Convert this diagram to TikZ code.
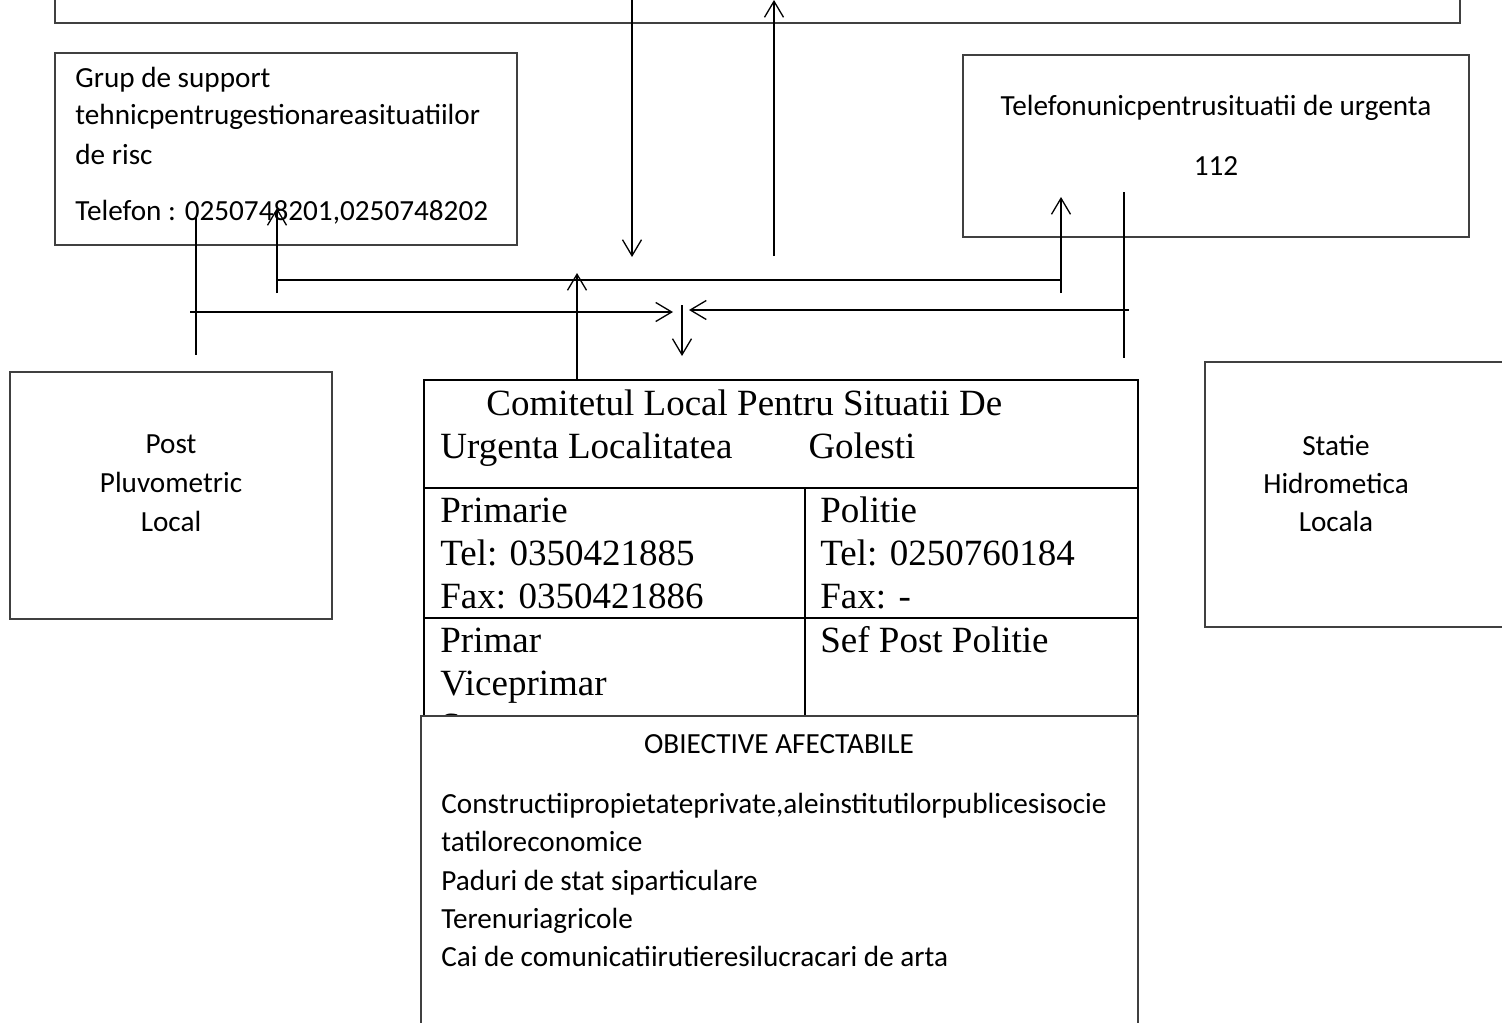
\documentclass[tikz,border=0pt]{standalone}
\usepackage{fontspec}
\setmainfont{Carlito}
\newfontfamily\timesf{Liberation Serif}
\usetikzlibrary{arrows.meta,fit}
\begin{document}
\begin{tikzpicture}[x=0.5pt,y=-0.5pt,
  box/.style={draw=black!75, line width=0.75pt, inner sep=0pt},
  tbl/.style={draw=black, line width=1pt},
  conn/.style={line width=0.65pt, draw=black},
  arr/.style={conn, -{Straight Barb[length=8pt,width=9.5pt,line width=0.65pt]}},
  cal/.style={font=\fontsize{14.6}{18}\selectfont, inner sep=0pt},
  tms/.style={font=\timesf\fontsize{18.5}{22}\selectfont, inner sep=0pt},
]
\useasboundingbox (0,0) rectangle (1502,1022);
\clip (0,0) rectangle (1502,1022);

% boxes
\node[box, fit={(55,-40) (1460,23)}] (top) {};
\node[box, fit={(55,53) (517,245)}] (grup) {};
\node[box, fit={(963,55) (1469,237)}] (tel) {};
\node[box, fit={(10,372) (332,619)}] (post) {};
\node[box, fit={(1205,362) (1540,627)}] (statie) {};
\node[tbl, inner sep=0pt, fit={(424,380) (1138,780)}] (table) {};

% box texts
\node[cal, anchor=base west] (g1) at (75,88) {Grup de support};
\node[cal, anchor=base west] (g2) at (75,125) {tehnicpentrugestionareasituatiilor};
\node[cal, anchor=base west] (g3) at (75,164) {de risc};
\node[cal, anchor=base west] (g4) at (75,220) {Telefon : 0250748201,0250748202};

\node[cal, anchor=base] (t1) at (1216,115) {Telefonunicpentrusituatii de urgenta};
\node[cal, anchor=base] (t2) at (1216,175) {112};

\node[cal, anchor=base] (p1) at (171,453) {Post};
\node[cal, anchor=base] (p2) at (171,492) {Pluvometric};
\node[cal, anchor=base] (p3) at (171,531) {Local};

\node[cal, anchor=base] (s1) at (1336,455) {Statie};
\node[cal, anchor=base] (s2) at (1336,493) {Hidrometica};
\node[cal, anchor=base] (s3) at (1336,531) {Locala};

% table
\draw[tbl] (424,488) -- (1138,488);
\draw[tbl] (424,618) -- (1138,618);
\draw[tbl] (805,488) -- (805,780);
\node[tms, anchor=base west] (c1) at (486,415) {Comitetul Local Pentru Situatii De};
\node[tms, anchor=base west] (c2) at (440,458) {Urgenta Localitatea\hspace{38pt}Golesti};
\node[tms, anchor=base west] (l1) at (440,522) {Primarie};
\node[tms, anchor=base west] (l2) at (440,565) {Tel: 0350421885};
\node[tms, anchor=base west] (l3) at (440,608) {Fax: 0350421886};
\node[tms, anchor=base west] (l4) at (440,652) {Primar};
\node[tms, anchor=base west] (l5) at (440,695) {Viceprimar};
\node[tms, anchor=base west] (l6) at (440,738) {Secretar};
\node[tms, anchor=base west] (r1) at (820,522) {Politie};
\node[tms, anchor=base west] (r2) at (820,565) {Tel: 0250760184};
\node[tms, anchor=base west] (r3) at (820,608) {Fax: -};
\node[tms, anchor=base west] (r4) at (820,652) {Sef Post Politie};

% objective box
\node[box, fill=white, fit={(421,716) (1138,1060)}] (obj) {};
\node[cal, anchor=base] (o0) at (779,753) {OBIECTIVE AFECTABILE};
\node[cal, anchor=base west] (o1) at (441,813) {Constructiipropietateprivate,aleinstitutilorpublicesisocie};
\node[cal, anchor=base west] (o2) at (441,851) {tatiloreconomice};
\node[cal, anchor=base west] (o3) at (441,890) {Paduri de stat siparticulare};
\node[cal, anchor=base west] (o4) at (441,928) {Terenuriagricole};
\node[cal, anchor=base west] (o5) at (441,966) {Cai de comunicatiirutieresilucracari de arta};

% connector end points
\coordinate (a1s) at (632,0);   \coordinate (a1e) at (632,257);
\coordinate (a2s) at (774,256); \coordinate (a2e) at (774,0);
\coordinate (v1s) at (196,218); \coordinate (v1e) at (196,355);
\coordinate (hLb) at (277,293); \coordinate (hLt) at (277,208);
\coordinate (hLm) at (277,280); \coordinate (hRm) at (1061,280);
\coordinate (hRb) at (1061,293); \coordinate (hRt) at (1061,197);
\coordinate (a5s) at (190,312); \coordinate (a5e) at (673,312);
\coordinate (a6s) at (577,380); \coordinate (a6e) at (577,273);
\coordinate (v2s) at (1124,192); \coordinate (v2e) at (1124,358);
\coordinate (a8s) at (1129,310); \coordinate (a8e) at (689,310);
\coordinate (a9s) at (682,305); \coordinate (a9e) at (682,356);

% connectors
\draw[arr] (a1s) -- (a1e);
\draw[arr] (a2s) -- (a2e);
\draw[conn] (v1s) -- (v1e);
\draw[arr] (hLb) -- (hLt);
\draw[conn] (hLm) -- (hRm);
\draw[arr] (hRb) -- (hRt);
\draw[arr] (a5s) -- (a5e);
\draw[arr] (a6s) -- (a6e);
\draw[conn] (v2s) -- (v2e);
\draw[arr] (a8s) -- (a8e);
\draw[arr] (a9s) -- (a9e);
\end{tikzpicture}
\end{document}
